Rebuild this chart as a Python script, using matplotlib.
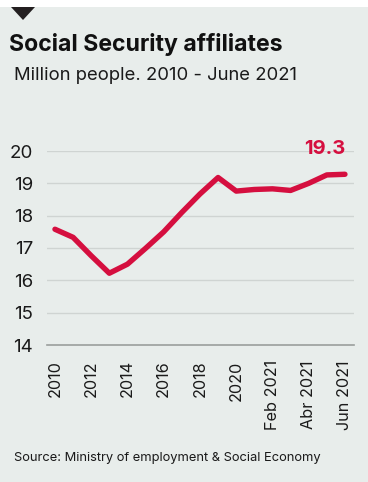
import numpy as np
import matplotlib
matplotlib.use("Agg")
import matplotlib.pyplot as plt
from matplotlib.patches import Polygon

# data (million people)
periods = ["2010", "2011", "2012", "2013", "2014", "2015", "2016", "2017",
           "2018", "2019", "2020", "Ene 2021", "Feb 2021", "Mar 2021",
           "Abr 2021", "May 2021", "Jun 2021"]
affiliates = [17.58, 17.33, 16.76, 16.22, 16.50, 16.99, 17.50, 18.10,
              18.67, 19.18, 18.76, 18.81, 18.83, 18.78, 19.00, 19.26, 19.28]
shown_ticks = ["2010", "2012", "2014", "2016", "2018", "2020",
               "Feb 2021", "Abr 2021", "Jun 2021"]
y_ticks = [14, 15, 16, 17, 18, 19, 20]
last_label = "19.3"

W, H = 368, 482
BG = "#e8edeb"
RED = "#d50f3f"
plt.rcParams['font.family'] = ['Inter', 'DejaVu Sans']

fig = plt.figure(figsize=(W / 100, H / 100), dpi=100)
fig.patch.set_facecolor(BG)

# white strip and triangle marker on top
fig.patches.append(plt.Rectangle((0, 1 - 7 / H), 1, 7 / H, transform=fig.transFigure,
                                 facecolor="white", edgecolor="none"))
tri = Polygon([(11 / W, 1 - 7 / H), (35 / W, 1 - 7 / H), (23 / W, 1 - 20 / H)],
              closed=True, transform=fig.transFigure, facecolor="#231f20", edgecolor="none")
fig.patches.append(tri)

fig.text(9 / W, 1 - 45 / H, "Social Security affiliates", fontsize=16.6,
         fontweight="bold", va="center", ha="left", color="#111111")
fig.text(14 / W, 1 - 75 / H, "Million people. 2010 - June 2021", fontsize=13.3,
         va="center", ha="left", color="#1a1a1a")
fig.text(14 / W, 1 - 458 / H, "Source: Ministry of employment & Social Economy",
         fontsize=9.3, va="center", ha="left", color="#1a1a1a")

ax = fig.add_axes([47 / W, (H - 345) / H, (354 - 47) / W, (345 - 151) / H])
ax.set_facecolor(BG)
x = np.arange(len(periods))
ax.plot(x, affiliates, color=RED, lw=3.9, solid_capstyle="round",
        solid_joinstyle="round", clip_on=False, zorder=3)
ax.text(x[-1] + 0.05, 20.05, last_label, color=RED, fontsize=14.5, fontweight="bold",
        ha="right", va="center", clip_on=False, zorder=4)

ax.set_xlim(-0.44, len(periods) - 1 + 0.5)
ax.set_ylim(14, 20)
ax.set_yticks(y_ticks)
ax.set_yticklabels([str(v) for v in y_ticks])
tick_pos = [periods.index(p) for p in shown_ticks]
ax.set_xticks(tick_pos)
ax.set_xticklabels(shown_ticks, rotation=90, ha="center", va="top")
ax.tick_params(axis="both", length=0, colors="#1a1a1a")
ax.tick_params(axis="y", pad=10, labelsize=13.5)
ax.tick_params(axis="x", pad=11, labelsize=11.7)

for v in y_ticks[1:]:
    ax.axhline(v, color="#cfd4d2", lw=1, zorder=1)
for s in ["top", "right", "left"]:
    ax.spines[s].set_visible(False)
ax.spines["bottom"].set_color("#9a9e9c")
ax.spines["bottom"].set_linewidth(1.2)

fig.savefig("out.png", dpi=100, facecolor=BG)
